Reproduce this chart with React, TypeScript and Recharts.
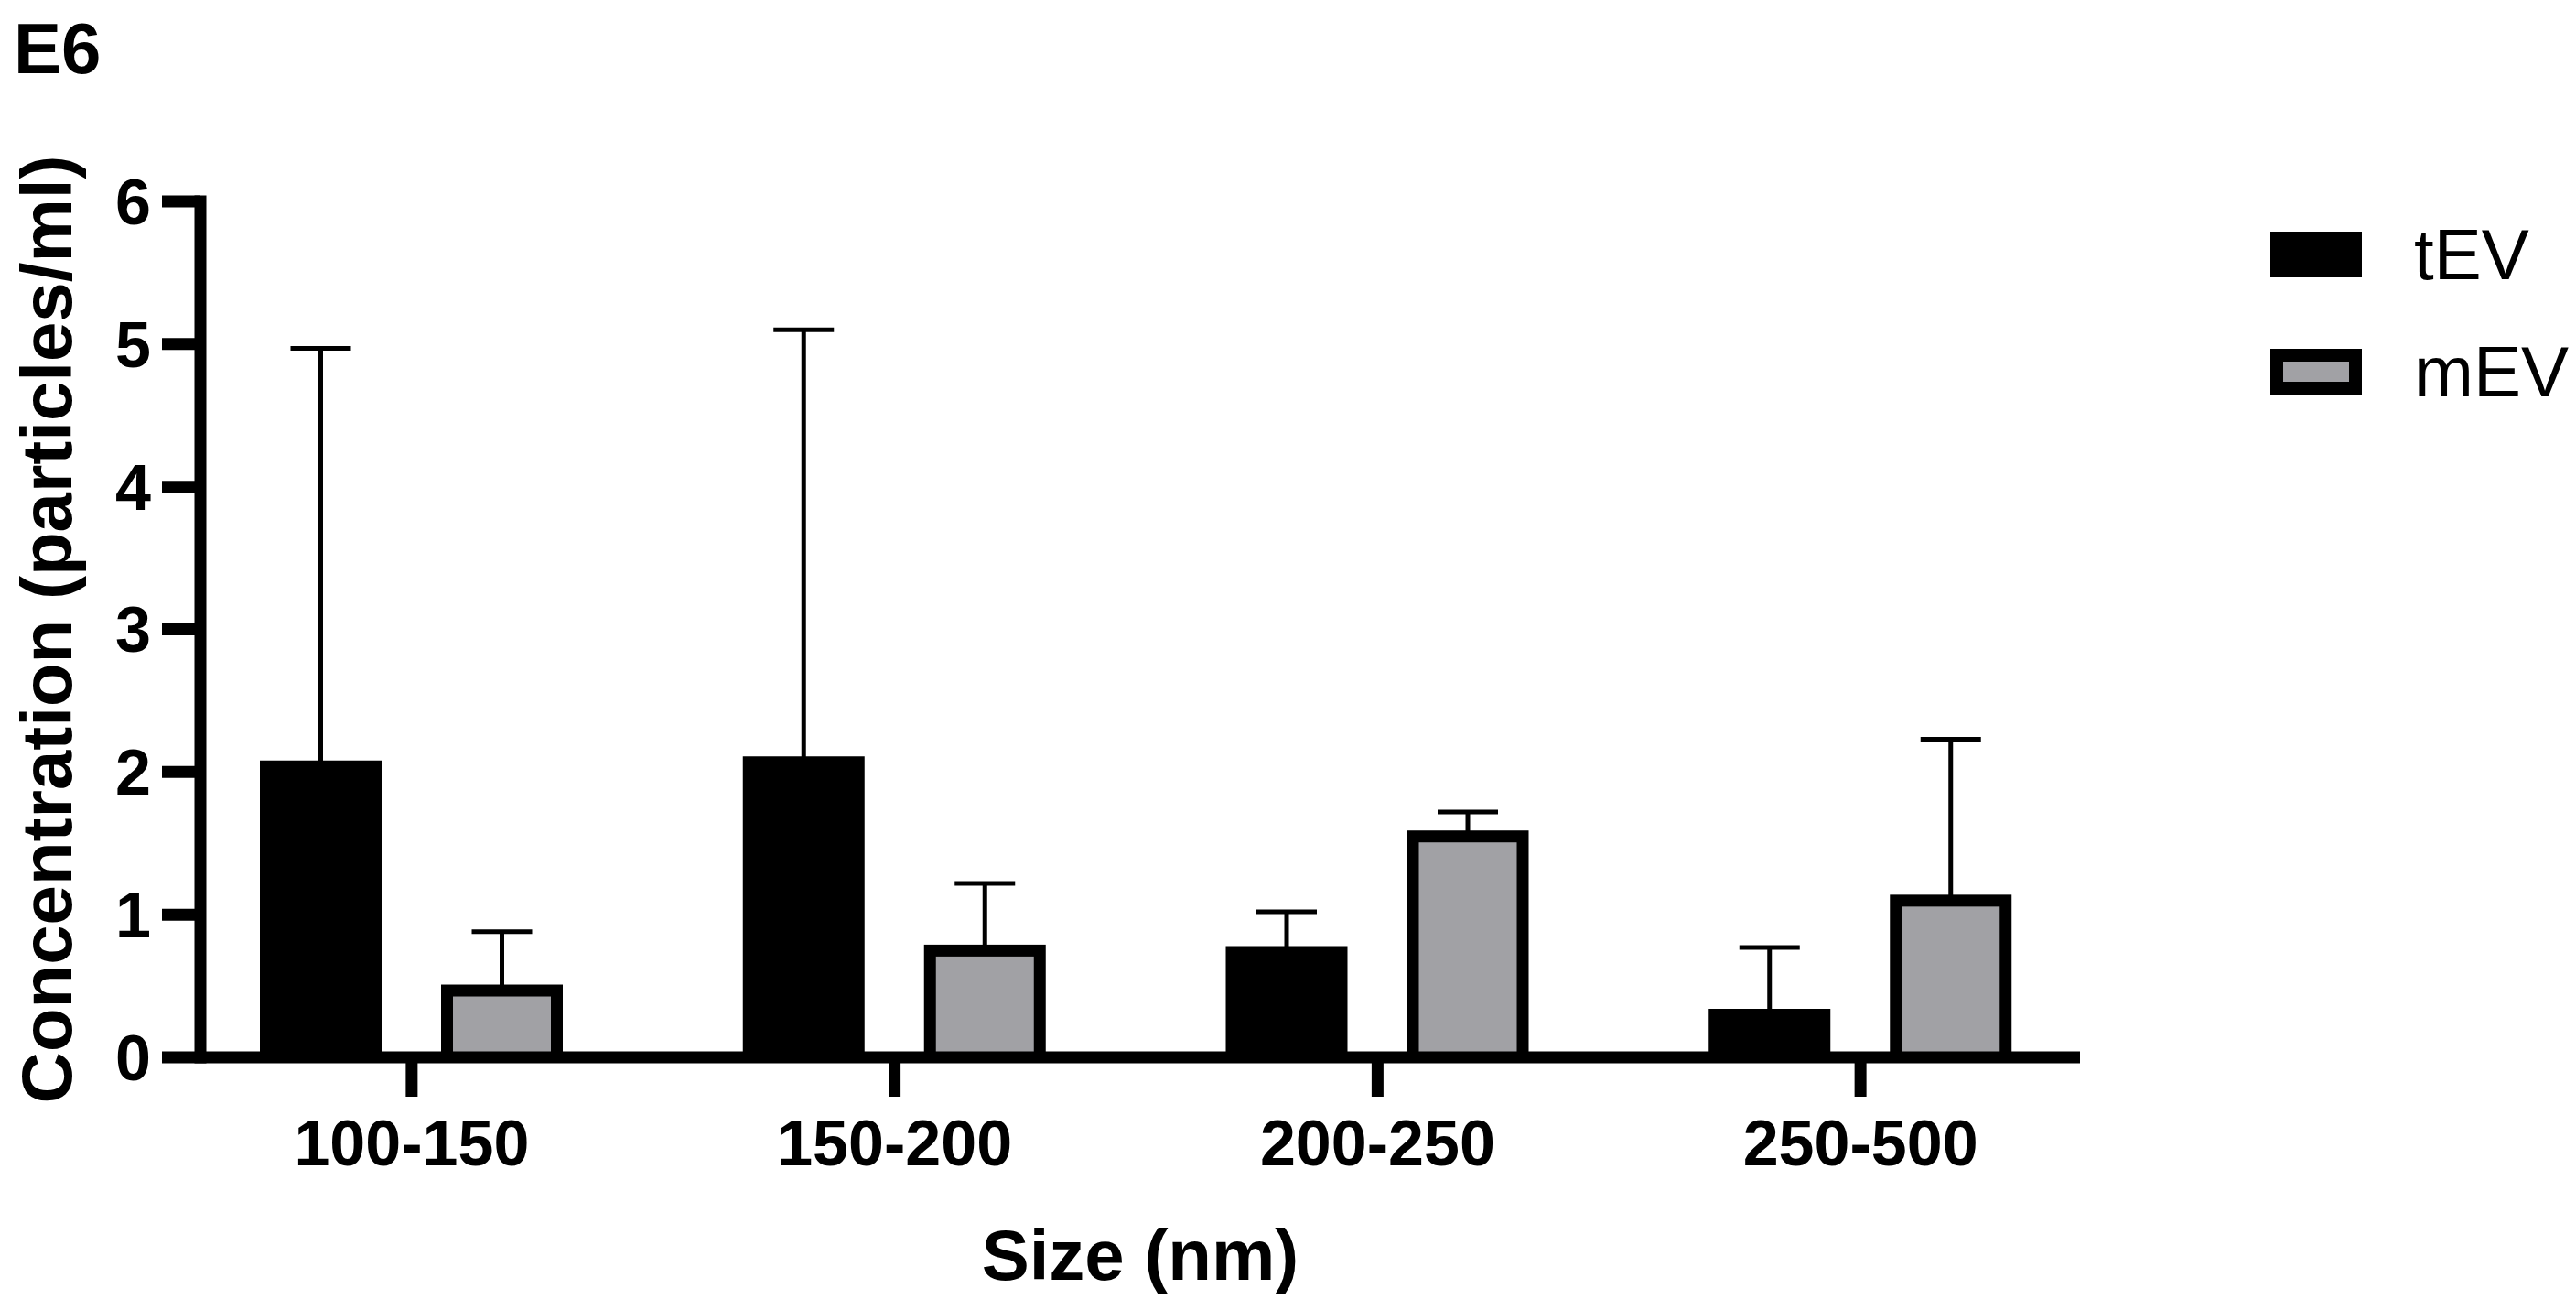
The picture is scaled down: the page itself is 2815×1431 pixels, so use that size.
import React from 'react';
import { BarChart, Bar, XAxis, YAxis, ErrorBar, Legend } from 'recharts';

const categories = ['100-150', '150-200', '200-250', '250-500'];
const seriesOrder = ['tEV', 'mEV'];
const tevMean = [2.08, 2.11, 0.78, 0.34];
const tevSd = [2.89, 2.99, 0.24, 0.43];
const mevMean = [0.51, 0.79, 1.59, 1.14];
const mevSd = [0.37, 0.43, 0.13, 1.09];
const yTicks = [0, 1, 2, 3, 4, 5, 6];

const FONT = '"Liberation Sans", Arial, Helvetica, sans-serif';
const GREY = '#a1a1a5';
const BORDER = 13;
// SD bars are one-sided; the lower whisker is tucked just inside the bar top so it stays hidden
const HIDE_LOW = 0.03;

const data = categories.map((size, i) => ({
  size,
  tEV: tevMean[i],
  tEVErr: [HIDE_LOW, tevSd[i]],
  mEV: mevMean[i],
  mEVErr: [HIDE_LOW, mevSd[i]],
}));

// grey bar with a thick black border drawn inside the bar's box
const BorderedBar = (props: any) => {
  const { x, y, width, height } = props;
  if (!height || height <= 0) return null;
  return (
    <g>
      <rect x={x} y={y} width={width} height={height} fill="#000" />
      {height > BORDER && (
        <rect
          x={x + BORDER}
          y={y + BORDER}
          width={width - 2 * BORDER}
          height={height - BORDER}
          fill={GREY}
        />
      )}
    </g>
  );
};

const YTitle = ({ viewBox }: any) => {
  const cx = viewBox.x + 50;
  const cy = viewBox.y + viewBox.height / 2;
  return (
    <text
      x={cx}
      y={cy}
      transform={`rotate(-90, ${cx}, ${cy})`}
      textAnchor="middle"
      dy="0.355em"
      fontFamily={FONT}
      fontWeight={700}
      fontSize={78}
      fill="#000"
    >
      Concentration (particles/ml)
    </text>
  );
};

const LegendContent = ({ payload }: any) => {
  const items = [...(payload || [])].sort(
    (a: any, b: any) => seriesOrder.indexOf(a.value) - seriesOrder.indexOf(b.value)
  );
  return (
    <div style={{ display: 'flex', flexDirection: 'column', gap: 78 }}>
      {items.map((entry: any) => (
        <div key={entry.value} style={{ display: 'flex', alignItems: 'center', height: 50 }}>
          <div
            style={{
              width: 100,
              height: 50,
              boxSizing: 'border-box',
              background: entry.value === 'mEV' ? GREY : '#000',
              border: entry.value === 'mEV' ? '14px solid #000' : 'none',
            }}
          />
          <span
            style={{
              marginLeft: 57,
              fontFamily: FONT,
              fontSize: 78,
              lineHeight: '50px',
              color: '#000',
              whiteSpace: 'nowrap',
            }}
          >
            {entry.value}
          </span>
        </div>
      ))}
    </div>
  );
};

export default function App() {
  return (
    <div style={{ position: 'absolute', left: 0, top: 0, width: 2815, height: 1431, background: '#fff' }}>
      <div
        style={{
          position: 'absolute',
          left: 15,
          top: 14,
          fontFamily: FONT,
          fontWeight: 700,
          fontSize: 78,
          lineHeight: 1,
          color: '#000',
        }}
      >
        E6
      </div>
      <BarChart
        width={2815}
        height={1431}
        data={data}
        margin={{ top: 220, right: 542, bottom: 33, left: 0 }}
        barSize={133}
        barGap={65}
      >
        <XAxis
          dataKey="size"
          height={243}
          interval={0}
          padding={{ left: -33, right: -24 }}
          tickSize={43}
          tickMargin={25}
          axisLine={{ stroke: '#000', strokeWidth: 13 }}
          tickLine={{ stroke: '#000', strokeWidth: 13 }}
          tick={{ fill: '#000', fontSize: 70, fontWeight: 700, fontFamily: FONT }}
          label={{
            value: 'Size (nm)',
            position: 'insideBottom',
            offset: 0,
            fill: '#000',
            fontSize: 78,
            fontWeight: 700,
            fontFamily: FONT,
          }}
        />
        <YAxis
          width={219}
          domain={[0, 6]}
          ticks={yTicks}
          interval={0}
          tickSize={42}
          tickMargin={12}
          axisLine={{ stroke: '#000', strokeWidth: 13, strokeLinecap: 'square' }}
          tickLine={{ stroke: '#000', strokeWidth: 13 }}
          tick={{ fill: '#000', fontSize: 70, fontWeight: 700, fontFamily: FONT }}
          label={<YTitle />}
        />
        <Legend
          layout="vertical"
          align="center"
          verticalAlign="middle"
          itemSorter={null}
          wrapperStyle={{ left: 2481, top: 253, width: 334 }}
          content={<LegendContent />}
        />
        <Bar dataKey="tEV" name="tEV" fill="#000" isAnimationActive={false}>
          <ErrorBar dataKey="tEVErr" width={33} stroke="#000" strokeWidth={5} direction="y" />
        </Bar>
        <Bar dataKey="mEV" name="mEV" fill={GREY} shape={<BorderedBar />} isAnimationActive={false}>
          <ErrorBar dataKey="mEVErr" width={33} stroke="#000" strokeWidth={5} direction="y" />
        </Bar>
      </BarChart>
    </div>
  );
}
